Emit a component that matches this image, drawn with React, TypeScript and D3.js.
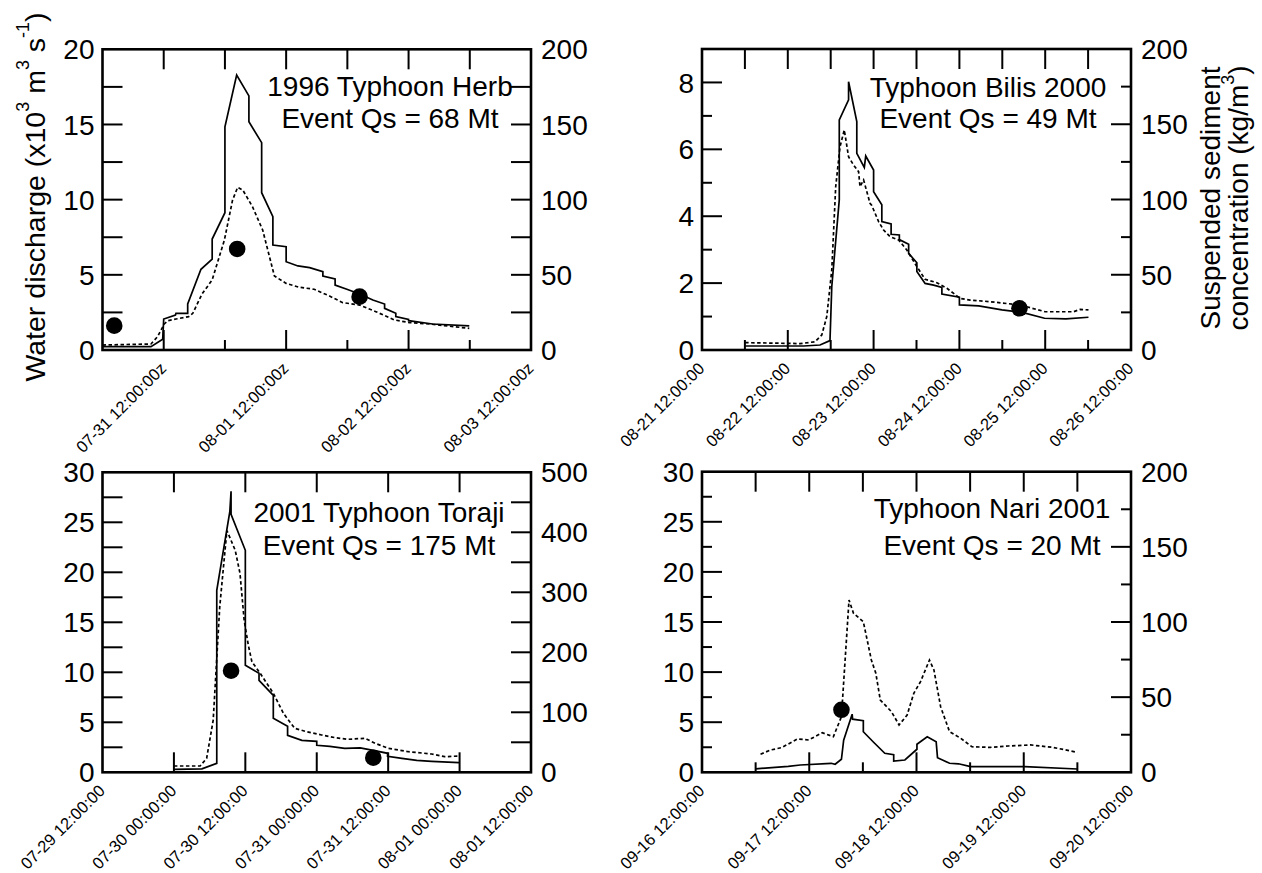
import React from 'react';
import * as d3 from 'd3';

type Pt = [number, number];

// ---------- Data (hours since axis start, value) ----------
// Panel 1: 1996 Typhoon Herb
const herbStart = '1996-07-31T00:00:00Z';
const herbEnd = '1996-08-03T12:00:00Z';
const herbDischarge: Pt[] = [
  [0, 0.22], [9.5, 0.22], [11.8, 0.71], [12, 2.06], [14.3, 2.33], [14.4, 2.44], [16.7, 2.44], [16.7, 3.06],
  [19.3, 5.37], [21.5, 6.05], [21.5, 7.38], [24, 9.13], [24, 14.85], [26.3, 18.29], [28.7, 16.9], [28.7, 15.18],
  [31.2, 13.79], [31.2, 10.46], [33.4, 8.87], [33.4, 6.98], [36, 6.87], [36, 5.87], [38.3, 5.59], [40.6, 5.48],
  [43.2, 5.21], [43.2, 4.92], [45.6, 4.72], [45.6, 4.32], [47.9, 4.04], [50.4, 3.72], [53, 3.33], [55.3, 3.06],
  [55.3, 2.77], [57.5, 2.44], [57.5, 2.22], [60, 2.04], [60, 1.95], [64.7, 1.73], [71.9, 1.6],
];
const herbSsc: Pt[] = [
  [0, 3.3], [9.5, 4.0], [10.8, 8.9], [12.1, 17.3], [12.8, 19.5], [14.4, 20.6], [16.9, 22.2], [17.7, 24.4],
  [19.5, 37.2], [21.5, 46.6], [23.9, 73.2], [25.5, 99.8], [26.5, 108.2], [27.5, 106.4], [29.4, 95.3], [31.4, 79.8],
  [33.7, 49.2], [36, 44.3], [38.6, 41.7], [41.5, 40.4], [44.5, 35.9], [47.1, 31.5], [50.4, 29.9], [53.6, 25.5],
  [57.2, 20], [60.2, 18.2], [64.1, 17.3], [71.9, 14.4],
];
const herbSamples: Pt[] = [[2.3, 16.2], [26.4, 67.2], [50.4, 35.5]];

// Panel 2: Typhoon Bilis 2000
const bilisStart = '2000-08-21T12:00:00Z';
const bilisEnd = '2000-08-26T12:00:00Z';
const bilisDischarge: Pt[] = [
  [12.06, 0.12], [28.4, 0.12], [33, 0.15], [35.8, 0.28], [36.3, 1.89], [38.4, 4.49], [38.4, 6.88], [41, 7.48],
  [41, 8.02], [43.3, 6.83], [43.3, 5.88], [45.4, 5.46], [45.8, 5.8], [48, 5.38], [48, 4.73], [50.3, 4.34],
  [50.3, 3.84], [52.9, 3.77], [52.9, 3.46], [55.2, 3.44], [55.2, 3.3], [57.8, 3.16], [57.8, 2.89], [60.1, 2.61],
  [60.1, 2.35], [62.4, 1.99], [64.8, 1.94], [67.1, 1.87], [67.1, 1.67], [72, 1.58], [72, 1.35], [77.4, 1.32],
  [83.9, 1.2], [89.3, 1.13], [95.8, 0.95], [101.8, 0.93], [108.1, 0.98],
];
const bilisSsc: Pt[] = [
  [12.06, 4.9], [24.7, 4.4], [27.4, 4.2], [31.6, 5.5], [33.5, 10], [34.9, 22.2], [36.3, 53.2], [37.4, 108.5],
  [38.6, 135], [39.8, 146.2], [41, 128.4], [42.4, 122.9], [43.8, 118.5], [44.2, 108.5], [45.2, 113], [47, 97.5],
  [47.5, 96], [49.4, 85.3], [50.8, 79.7], [52.6, 75.3], [55, 73.1], [57.3, 66.4], [60.1, 55.4], [62.4, 47],
  [65.7, 44.7], [68.5, 41], [72.2, 34.3], [75, 33.2], [80.6, 32.1], [89, 29.9], [96, 25.4], [103.9, 25.4],
  [105.8, 27], [108.1, 26.6],
];
const bilisSamples: Pt[] = [[88.8, 27.7]];

// Panel 3: 2001 Typhoon Toraji
const torajiStart = '2001-07-29T12:00:00Z';
const torajiEnd = '2001-08-01T12:00:00Z';
const torajiDischarge: Pt[] = [
  [12, 0.3], [16.7, 0.35], [19.2, 0.9], [19.2, 18.2], [21.4, 26.1], [21.6, 28.1], [21.6, 25.8], [24, 22.2],
  [24, 10.7], [26.3, 9.9], [26.3, 9.2], [28.7, 7.7], [28.7, 5.4], [31.1, 4.6], [31.1, 3.7], [33.5, 3.2],
  [36, 3.1], [36, 2.7], [38.2, 2.6], [40.7, 2.4], [43.3, 2.45], [45.5, 2.2], [47.9, 1.9], [47.9, 1.6],
  [50.3, 1.4], [52.8, 1.2], [55.3, 1.1], [59.9, 0.96],
];
const torajiSsc: Pt[] = [
  [12, 10.5], [16.4, 10.5], [17.5, 23.3], [18.6, 87], [19.7, 276], [20.9, 403], [22.3, 370], [23.1, 331.7],
  [23.8, 253.8], [24.5, 212], [25.1, 184.3], [26.5, 165], [28.7, 131.7], [30.4, 98.3], [32.3, 73.3], [34.3, 67.7],
  [36.8, 62.2], [39.1, 57.7], [41.3, 55], [44.1, 56.7], [45.8, 48.3], [48, 40], [51.4, 34.3], [55.3, 30.5],
  [57.5, 26], [59.9, 27.2],
];
const torajiSamples: Pt[] = [[21.6, 169.3], [45.5, 24.3]];

// Panel 4: Typhoon Nari 2001
const nariStart = '2001-09-16T12:00:00Z';
const nariEnd = '2001-09-20T12:00:00Z';
const nariDischarge: Pt[] = [
  [12, 0.35], [19.3, 0.6], [22, 0.73], [28.9, 0.9], [29.8, 0.8], [31.2, 1.3], [31.7, 3.2], [33.6, 5.8],
  [33.7, 5.3], [36.1, 5.15], [36.1, 4.05], [38.4, 3.0], [40.9, 1.9], [42.9, 1.75], [42.9, 1.13], [45.4, 1.23],
  [48.1, 2.3], [48.1, 2.8], [50.4, 3.55], [52.4, 3.05], [52.7, 1.46], [55.4, 0.9], [57.4, 0.85], [60.1, 0.56],
  [72.2, 0.56], [84, 0.33],
];
const nariSsc: Pt[] = [
  [13.1, 12], [15.3, 14.8], [17.8, 16.4], [21.4, 22.2], [23.9, 21.5], [26.9, 26.3], [29.4, 23.7], [31.2, 37],
  [32.9, 114.6], [33.9, 105.8], [36.1, 100.2], [37.9, 74.7], [38.9, 65.9], [39.9, 48.1], [42.4, 40.3], [44.1, 31.5],
  [45.9, 38.1], [47.4, 52.6], [48.9, 60.3], [50.9, 74.7], [51.9, 68.1], [53.4, 43.6], [55.4, 27], [57.9, 22.6],
  [60.4, 17], [64.5, 16.6], [68.5, 17.5], [73.5, 18.2], [78.5, 16.6], [84, 13.3],
];
const nariSamples: Pt[] = [[31.2, 41.6]];

// Titles
const herbTitle = ['1996 Typhoon Herb', 'Event Qs = 68 Mt'];
const bilisTitle = ['Typhoon Bilis 2000', 'Event Qs = 49 Mt'];
const torajiTitle = ['2001 Typhoon Toraji', 'Event Qs = 175 Mt'];
const nariTitle = ['Typhoon Nari 2001', 'Event Qs = 20 Mt'];

const FONT = '"Liberation Sans", Arial, Helvetica, sans-serif';

interface AxisSpec { domain: [number, number]; step: number; labelStep: number; minorLen: number; }
interface PanelSpec {
  box: { L: number; R: number; T: number; B: number };
  start: string; end: string;
  suffix: string; allLabels: boolean;
  left: AxisSpec; right: AxisSpec;
  discharge: Pt[]; ssc: Pt[]; samples: Pt[];
  title: string[]; titleX: number; titleY: [number, number];
}

const panels: PanelSpec[] = [
  {
    box: { L: 102.5, R: 531, T: 49.3, B: 350 }, start: herbStart, end: herbEnd, suffix: 'z', allLabels: false,
    left: { domain: [0, 20], step: 2.5, labelStep: 5, minorLen: 20 },
    right: { domain: [0, 200], step: 25, labelStep: 50, minorLen: 20 },
    discharge: herbDischarge, ssc: herbSsc, samples: herbSamples,
    title: herbTitle, titleX: 390, titleY: [95.7, 128.3],
  },
  {
    box: { L: 702, R: 1131, T: 49, B: 350 }, start: bilisStart, end: bilisEnd, suffix: '', allLabels: false,
    left: { domain: [0, 9], step: 1, labelStep: 2, minorLen: 10 },
    right: { domain: [0, 200], step: 25, labelStep: 50, minorLen: 10 },
    discharge: bilisDischarge, ssc: bilisSsc, samples: bilisSamples,
    title: bilisTitle, titleX: 988, titleY: [96.7, 128.3],
  },
  {
    box: { L: 102.5, R: 531, T: 472.3, B: 772.3 }, start: torajiStart, end: torajiEnd, suffix: '', allLabels: true,
    left: { domain: [0, 30], step: 2.5, labelStep: 5, minorLen: 20 },
    right: { domain: [0, 500], step: 50, labelStep: 100, minorLen: 20 },
    discharge: torajiDischarge, ssc: torajiSsc, samples: torajiSamples,
    title: torajiTitle, titleX: 379, titleY: [521.7, 555],
  },
  {
    box: { L: 702, R: 1131, T: 471.7, B: 772.3 }, start: nariStart, end: nariEnd, suffix: '', allLabels: false,
    left: { domain: [0, 30], step: 2.5, labelStep: 5, minorLen: 10 },
    right: { domain: [0, 200], step: 25, labelStep: 50, minorLen: 10 },
    discharge: nariDischarge, ssc: nariSsc, samples: nariSamples,
    title: nariTitle, titleX: 992, titleY: [518.3, 555],
  },
];

const isMultiple = (v: number, s: number) => Math.abs(v / s - Math.round(v / s)) < 1e-6;

function Panel({ p }: { p: PanelSpec }) {
  const { L, R, T, B } = p.box;
  const t0 = new Date(p.start);
  const t1 = new Date(p.end);
  const x = d3.scaleUtc().domain([t0, t1]).range([L, R]);
  const yL = d3.scaleLinear().domain(p.left.domain).range([B, T]);
  const yR = d3.scaleLinear().domain(p.right.domain).range([B, T]);
  const toDate = (h: number) => new Date(t0.getTime() + h * 3600000);
  const qLine = d3.line<Pt>().x(d => x(toDate(d[0]))).y(d => yL(d[1]));
  const cLine = d3.line<Pt>().x(d => x(toDate(d[0]))).y(d => yR(d[1]));
  const xTicks = d3.utcHour.every(12)!.range(t0, new Date(t1.getTime() + 1));
  const fmt = d3.utcFormat('%m-%d %H:%M:%S');
  const isLabeled = (d: Date) => p.allLabels || d.getUTCHours() === 12;
  const leftTicks = d3.range(p.left.domain[0], p.left.domain[1] + p.left.step / 2, p.left.step);
  const rightTicks = d3.range(p.right.domain[0], p.right.domain[1] + p.right.step / 2, p.right.step);
  const tickStroke = 2;

  return (
    <g>
      <path d={qLine(p.discharge) || ''} fill="none" stroke="#000" strokeWidth={1.7} strokeLinejoin="miter" />
      <path d={cLine(p.ssc) || ''} fill="none" stroke="#000" strokeWidth={1.7} strokeDasharray="3.5,2.5" />
      {p.samples.map((d, i) => (
        <circle key={i} cx={x(toDate(d[0]))} cy={yR(d[1])} r={8.3} fill="#000" />
      ))}
      {/* x ticks */}
      {xTicks.map((d, i) => {
        const xx = x(d);
        const interior = i > 0 && i < xTicks.length - 1;
        const lab = isLabeled(d);
        return (
          <g key={'x' + i}>
            {interior && <line x1={xx} x2={xx} y1={T} y2={T + 20} stroke="#000" strokeWidth={tickStroke} />}
            {interior && <line x1={xx} x2={xx} y1={B} y2={B - (lab ? 20 : 10)} stroke="#000" strokeWidth={tickStroke} />}
            {lab && (
              <text transform={`translate(${xx + 3.5},${B + 19.5}) rotate(-45)`} textAnchor="end"
                fontSize={16.5} fontFamily={FONT}>{fmt(d) + p.suffix}</text>
            )}
          </g>
        );
      })}
      {/* left ticks */}
      {leftTicks.map((v, i) => {
        const yy = yL(v);
        const major = isMultiple(v, p.left.labelStep);
        const interior = i > 0 && i < leftTicks.length - 1;
        return (
          <g key={'l' + i}>
            {interior && <line x1={L} x2={L + (major ? 20 : p.left.minorLen)} y1={yy} y2={yy} stroke="#000" strokeWidth={tickStroke} />}
            {major && (
              <text x={L - 8} y={yy} dy="0.36em" textAnchor="end" fontSize={28} fontFamily={FONT}>{String(v)}</text>
            )}
          </g>
        );
      })}
      {/* right ticks */}
      {rightTicks.map((v, i) => {
        const yy = yR(v);
        const major = isMultiple(v, p.right.labelStep);
        const interior = i > 0 && i < rightTicks.length - 1;
        return (
          <g key={'r' + i}>
            {interior && <line x1={R - (major ? 20 : p.right.minorLen)} x2={R} y1={yy} y2={yy} stroke="#000" strokeWidth={tickStroke} />}
            {major && (
              <text x={R + 10} y={yy} dy="0.36em" textAnchor="start" fontSize={28} fontFamily={FONT}>{String(v)}</text>
            )}
          </g>
        );
      })}
      <rect x={L} y={T} width={R - L} height={B - T} fill="none" stroke="#000" strokeWidth={2.6} />
      {p.title.map((t, i) => (
        <text key={'t' + i} x={p.titleX} y={p.titleY[i]} textAnchor="middle" fontSize={28} fontFamily={FONT}>{t}</text>
      ))}
    </g>
  );
}

export default function App() {
  return (
    <svg width={1262} height={873} viewBox="0 0 1262 873"
      style={{ position: 'absolute', left: 0, top: 0, background: '#fff' }}>
      <rect x={0} y={0} width={1262} height={873} fill="#fff" />
      {panels.map((p, i) => <Panel key={i} p={p} />)}
      <text transform="translate(45,197) rotate(-90)" textAnchor="middle" fontSize={28.5} fontFamily={FONT}>
        Water discharge (x10<tspan dy={-16} fontSize={18}>3</tspan>
        <tspan dy={16}> m</tspan><tspan dy={-16} fontSize={18}>3</tspan>
        <tspan dy={16}> s</tspan><tspan dy={-16} fontSize={18}>-1</tspan>
        <tspan dy={16}>)</tspan>
      </text>
      <text transform="translate(1220,198) rotate(-90)" textAnchor="middle" fontSize={28} fontFamily={FONT}>
        Suspended sediment
      </text>
      <text transform="translate(1248,198) rotate(-90)" textAnchor="middle" fontSize={28} fontFamily={FONT}>
        concentration (kg/m<tspan dy={-14} fontSize={18}>3</tspan><tspan dy={14}>)</tspan>
      </text>
    </svg>
  );
}
